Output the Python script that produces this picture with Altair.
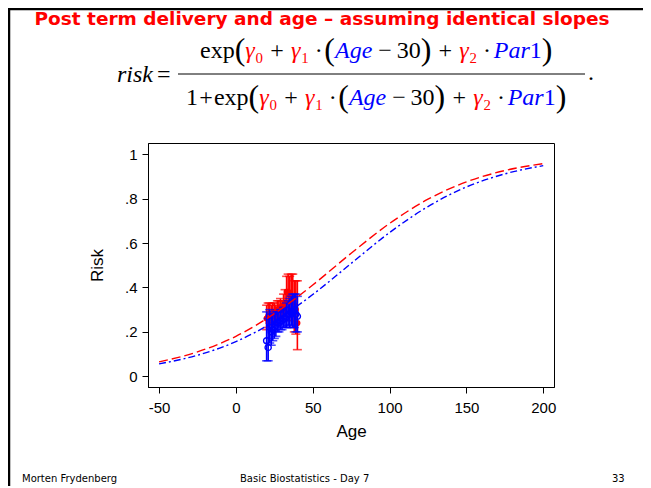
import altair as alt
import pandas as pd

# ---------------- data ----------------
curve_age = [-50, -25, 0, 25, 50, 75, 100, 125, 150, 175, 200]
risk_red = [0.065, 0.110, 0.180, 0.282, 0.411, 0.554, 0.688, 0.797, 0.875, 0.926, 0.957]
risk_blue = [0.056, 0.095, 0.156, 0.247, 0.368, 0.508, 0.647, 0.764, 0.852, 0.911, 0.948]

obs_age = [20, 21, 22, 23, 24, 25, 26, 27, 28, 29, 30,
           31, 32, 33, 34, 35, 36, 37, 38, 39, 40]
red_risk = [0.26, 0.27, 0.28, 0.27, 0.28, 0.29, 0.28, 0.30, 0.30, 0.31, 0.30,
            0.32, 0.33, 0.38, 0.38, 0.37, 0.35, 0.33, 0.32, 0.30, 0.24]
red_lo = [0.21, 0.22, 0.24, 0.23, 0.24, 0.25, 0.24, 0.26, 0.26, 0.27, 0.26,
          0.27, 0.27, 0.31, 0.30, 0.28, 0.25, 0.22, 0.20, 0.19, 0.12]
red_hi = [0.32, 0.33, 0.33, 0.32, 0.33, 0.33, 0.32, 0.34, 0.34, 0.35, 0.34,
          0.37, 0.39, 0.45, 0.46, 0.45, 0.46, 0.46, 0.43, 0.43, 0.43]
blue_risk = [0.16, 0.13, 0.22, 0.20, 0.21, 0.22, 0.23, 0.24, 0.24, 0.25, 0.25,
             0.26, 0.26, 0.27, 0.28, 0.28, 0.29, 0.29, 0.30, 0.28, 0.27]
blue_lo = [0.07, 0.07, 0.15, 0.14, 0.16, 0.17, 0.18, 0.20, 0.20, 0.21, 0.21,
           0.22, 0.22, 0.22, 0.23, 0.22, 0.23, 0.22, 0.22, 0.20, 0.20]
blue_hi = [0.29, 0.26, 0.30, 0.28, 0.28, 0.28, 0.29, 0.29, 0.29, 0.30, 0.30,
           0.31, 0.31, 0.33, 0.34, 0.35, 0.36, 0.37, 0.37, 0.37, 0.36]

y_ticks = [0, 0.2, 0.4, 0.6, 0.8, 1.0]
x_ticks = [-50, 0, 50, 100, 150, 200]

title_text = "Post term delivery and age \u2013 assuming identical slopes"
footer_left = "Morten Frydenberg"
footer_mid = "Basic Biostatistics - Day 7"
footer_right = "33"

RED = "#FF0000"
BLUE = "#0000FF"

# ---------------- layout helpers ----------------
PL, PT = 140, 135           # padding -> plot area origin at page (148,143)
W, H = 406, 244
TOTAL_H = 478
def px(x): return x - 148
def py(y): return y - 143

one = pd.DataFrame({"d": [0]})

def label(text, x, y, size, color="black", font="DejaVu Sans", weight="normal",
          style="normal", align="left", baseline="alphabetic"):
    return alt.Chart(one).mark_text(
        text=text, font=font, fontSize=size, fontWeight=weight, fontStyle=style,
        color=color, align=align, baseline=baseline
    ).encode(x=alt.value(px(x)), y=alt.value(py(y)))

# formula typesetting (Times-metric widths, em)
WN = {"e": .444, "x": .5, "p": .5, "(": .333, ")": .333, "+": .564, "\u00b7": .25,
      "\u2212": .564, "3": .5, "0": .5, "1": .5, "2": .5, "=": .564, ".": .25}
WI = {"\u03b3": .43, "A": .611, "g": .5, "e": .444, "P": .611, "a": .5, "r": .389,
      "i": .278, "s": .389, "k": .444}
S = 24

def formula(pieces, x0, base):
    out = []
    x = x0
    for p in pieces:
        txt, col, kind = p
        if kind == "gap":
            x += float(txt) * S
            continue
        if kind == "b":
            size = S * 1.33
            dy = 0.235 * (size - S)
        elif kind == "s":
            size = S * 0.62
            dy = 0.2 * S
        else:
            size = S
            dy = 0
        italic = kind == "i"
        table = WI if italic else WN
        w = sum(table.get(c, .5) for c in txt) * size
        out.append(label(txt, x, base + dy, size, color=col, font="Liberation Serif",
                         style="italic" if italic else "normal"))
        x += w
    return out

K = "black"
core = [("(", K, "b"), ("\u03b3", RED, "i"), ("0", RED, "s"), ("0.3", K, "gap"),
        ("+", K, "n"), ("0.3", K, "gap"), ("\u03b3", RED, "i"), ("1", RED, "s"),
        ("0.25", K, "gap"), ("\u00b7", K, "n"), ("0.15", K, "gap"), ("(", K, "b"),
        ("Age", BLUE, "i"), ("0.25", K, "gap"), ("\u2212", K, "n"), ("0.2", K, "gap"),
        ("30", K, "n"), (")", K, "b"), ("0.3", K, "gap"), ("+", K, "n"),
        ("0.3", K, "gap"), ("\u03b3", RED, "i"), ("2", RED, "s"), ("0.25", K, "gap"),
        ("\u00b7", K, "n"), ("0.2", K, "gap"), ("Par", BLUE, "i"), ("1", BLUE, "n"),
        (")", K, "b")]
numer = [("exp", K, "n")] + core
denom = [("1", K, "n"), ("0.05", K, "gap"), ("+", K, "n"), ("0.05", K, "gap"),
         ("exp", K, "n")] + core

annot = []
annot.append(label(title_text, 322, 19, 18.5, color=RED, weight="bold",
                   align="center", baseline="middle"))
annot += formula(numer, 200, 58)
annot += formula(denom, 186, 105)
annot.append(label("risk", 117, 82, S, font="Liberation Serif", style="italic"))
annot.append(label("=", 157, 82, S, font="Liberation Serif"))
annot.append(label(".", 588, 80, S, font="Liberation Serif"))
annot.append(alt.Chart(one).mark_rule(color="black", strokeWidth=1).encode(
    x=alt.value(px(178)), x2=alt.value(px(585)), y=alt.value(py(74))))
# slide frame
annot.append(alt.Chart(one).mark_rule(color="black", strokeWidth=2.5).encode(
    x=alt.value(px(8)), x2=alt.value(px(643)), y=alt.value(py(9))))
annot.append(alt.Chart(one).mark_rule(color="black", strokeWidth=2.5).encode(
    x=alt.value(px(9)), y=alt.value(py(8)), y2=alt.value(py(8 + TOTAL_H))))
annot.append(label(footer_left, 22, 482, 10))
annot.append(label(footer_mid, 240, 482, 10))
annot.append(label(footer_right, 612, 482, 10))

# ---------------- plot ----------------
xs = alt.Scale(domain=[-57.2, 207], nice=False, zero=False)
ys = alt.Scale(domain=[-0.048, 1.05], nice=False, zero=False)
x_enc = alt.X("age:Q", scale=xs, title="Age",
              axis=alt.Axis(values=x_ticks, grid=False, labelPadding=7, titlePadding=8,
                            labelExpr="toString(datum.value)"))
y_enc = alt.Y("risk:Q", scale=ys, title="Risk",
              axis=alt.Axis(values=y_ticks, grid=False, labelPadding=5, titlePadding=18,
                            labelExpr="replace(format(datum.value, '.1~f'), '0.', '.')"))

red_df = pd.DataFrame({"age": obs_age, "risk": red_risk, "lo": red_lo, "hi": red_hi})
blue_df = pd.DataFrame({"age": obs_age, "risk": blue_risk, "lo": blue_lo, "hi": blue_hi})
curve_df = pd.DataFrame({"age": curve_age, "red": risk_red, "blue": risk_blue})

def errbars(df, color, filled):
    bar = alt.Chart(df).mark_rule(color=color, strokeWidth=1.6).encode(
        x=x_enc, y=alt.Y("lo:Q", scale=ys), y2="hi:Q")
    cap_lo = alt.Chart(df).mark_tick(color=color, orient="horizontal", size=9,
                                     thickness=1.6).encode(x=x_enc, y=alt.Y("lo:Q", scale=ys))
    cap_hi = alt.Chart(df).mark_tick(color=color, orient="horizontal", size=9,
                                     thickness=1.6).encode(x=x_enc, y=alt.Y("hi:Q", scale=ys))
    pts = alt.Chart(df).mark_point(shape="circle", size=38, color=color, filled=filled,
                                   opacity=1, strokeWidth=1.4).encode(x=x_enc, y=y_enc)
    return [bar, cap_lo, cap_hi, pts]

red_line = alt.Chart(curve_df).mark_line(color=RED, strokeWidth=1.4, strokeDash=[9, 4],
                                         interpolate="monotone").encode(
    x=x_enc, y=alt.Y("red:Q", scale=ys, title="Risk"))
blue_line = alt.Chart(curve_df).mark_line(color=BLUE, strokeWidth=1.4,
                                          strokeDash=[7, 3, 2, 3],
                                          interpolate="monotone").encode(
    x=x_enc, y=alt.Y("blue:Q", scale=ys, title="Risk"))

layers = errbars(red_df, RED, True) + errbars(blue_df, BLUE, False) + [red_line, blue_line]

chart = alt.layer(*layers, *annot).properties(
    width=W, height=H,
    padding={"left": PL, "top": PT, "right": 89, "bottom": TOTAL_H - PT - H},
    autosize=alt.AutoSizeParams(type="none"),
    background="white",
).configure_view(stroke="black", strokeWidth=1).configure_axis(
    domainColor="black", tickColor="black", labelColor="black", titleColor="black",
    labelFont="Liberation Sans", titleFont="Liberation Sans", labelFontSize=15,
    titleFontSize=17, titleFontWeight="normal", tickSize=6, domainWidth=1, tickWidth=1)

chart.save("out.html", embed_options={"renderer": "svg", "actions": False})
